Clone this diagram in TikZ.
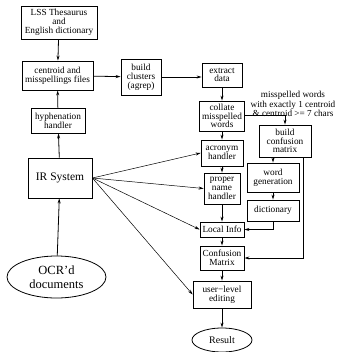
\documentclass[tikz,border=0pt]{standalone}
\usepackage{fontspec}
\setmainfont{Liberation Serif}
\usetikzlibrary{arrows.meta,shapes.geometric}

\begin{document}
\begin{tikzpicture}[x=1pt, y=-1pt,
    box/.style={draw, line width=0.8pt, align=center, inner sep=1pt,
      font=\fontsize{9.3}{8.8}\selectfont},
    oval/.style={draw, ellipse, line width=0.8pt, align=center, inner sep=0pt},
    flow/.style={line width=0.8pt, -{Stealth[length=5pt, width=3pt]}},
    feed/.style={line width=0.5pt, -{Stealth[length=5pt, width=3pt]}}]
  \useasboundingbox (0,0) rectangle (337,352);

  % left column
  \node[box, minimum width=76pt, minimum height=33pt] (lss) at (59,22.5)
    {LSS Thesaurus\\and\\English dictionary};
  \node[box, minimum width=71pt, minimum height=29pt] (centroid) at (57.5,75.5)
    {centroid and\\misspellings files};
  \node[box, minimum width=54pt, minimum height=25pt] (hyph) at (58,120.5)
    {hyphenation\\handler};
  \node[box, minimum width=64pt, minimum height=40pt,
    font=\fontsize{11.5}{12}\selectfont] (ir) at (60,178) {IR System};
  \node[oval, minimum width=99pt, minimum height=42pt,
    font=\fontsize{12.5}{14}\selectfont] (ocr) at (56.5,277)
    {OCR'd\\documents};
  \node[box, minimum width=40pt, minimum height=36pt] (clusters) at (141,77)
    {build\\clusters\\(agrep)};

  % middle column
  \node[box, minimum width=40pt, minimum height=24pt] (extract) at (222,75)
    {extract\\data};
  \node[box, minimum width=45pt, minimum height=30pt] (collate) at (222,116)
    {collate\\misspelled\\words};
  \node[box, minimum width=42pt, minimum height=26pt] (acronym) at (222,153)
    {acronym\\handler};
  \node[box, minimum width=36pt, minimum height=31pt] (proper) at (222,188.5)
    {proper\\name\\handler};
  \node[box, minimum width=44pt, minimum height=15pt] (local) at (222,229.5)
    {Local Info};
  \node[box, minimum width=44pt, minimum height=24pt] (confm) at (222,258)
    {Confusion\\Matrix};
  \node[box, minimum width=58pt, minimum height=27pt] (user) at (222,294.5)
    {user−level\\editing};
  \node[oval, minimum width=60pt, minimum height=24pt,
    font=\fontsize{10}{10}\selectfont] (result) at (222,340) {Result};

  % right column
  \node[align=center, inner sep=0pt, font=\fontsize{9.2}{9.3}\selectfont] (note)
    at (293,104) {misspelled words\\with exactly 1 centroid\\\& centroid >= 7 chars};
  \node[box, minimum width=52pt, minimum height=32pt] (bcm) at (285,141)
    {build\\confusion\\matrix};
  \node[box, minimum width=52pt, minimum height=29pt] (wordgen) at (273,177.5)
    {word\\generation};
  \node[box, minimum width=52pt, minimum height=21pt] (dict) at (273,210.5)
    {dictionary};

  \draw[flow] (lss) -- (centroid);
  \draw[flow] (hyph) -- (centroid);
  \draw[flow] (ir) -- (hyph);
  \draw[flow] (ocr) -- (ir);
  \draw[flow] (centroid) -- (clusters);
  \draw[flow] (clusters.east) -- (extract.west |- clusters.east);
  \draw[flow] (extract) -- (collate);
  \draw[flow] (collate) -- (acronym);
  \draw[flow] (acronym) -- (proper);
  \draw[flow] (proper) -- (local);
  \draw[flow] (local) -- (confm);
  \draw[flow] (confm) -- (user);
  \draw[flow] (user) -- (result);
  \draw[flow] ([yshift=1pt]collate.east) -| (bcm.north);
  \draw[flow] (bcm.south -| wordgen) -- (wordgen.north);
  \draw[flow] (wordgen) -- (dict);
  \draw[flow] (dict.south) |- (local.east);
  \draw[flow] ([xshift=18pt]bcm.south) |- (confm.east);
  \draw[feed] (ir.east) -- (acronym.west);
  \draw[feed] (ir.east) -- (proper.west);
  \draw[feed] (ir.east) -- (local.west);
  \draw[feed] (ir.east) -- (user.west);
\end{tikzpicture}
\end{document}
